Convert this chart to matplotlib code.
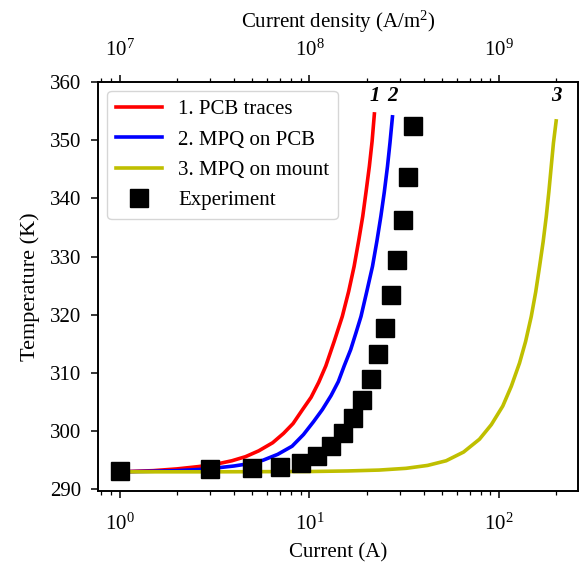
import matplotlib
matplotlib.use("Agg")
import matplotlib.pyplot as plt

plt.rcParams['font.family'] = ['Liberation Serif', 'DejaVu Serif']
plt.rcParams['mathtext.fontset'] = 'custom'
plt.rcParams['mathtext.rm'] = 'Liberation Serif'
plt.rcParams['mathtext.it'] = 'Liberation Serif:italic'
plt.rcParams['mathtext.bf'] = 'Liberation Serif:bold'

# Curve 1: PCB traces
pcb_I = [1.0, 1.5, 2.0, 2.6, 3.2, 3.9, 4.6, 5.4, 6.4, 7.3, 8.2, 9.2, 10.2, 11.2,
         12.2, 13.5, 14.9, 16.1, 17.2, 18.2, 19.1, 19.9, 20.7, 21.4, 22.0]
pcb_T = [293.0, 293.2, 293.5, 293.9, 294.3, 294.9, 295.6, 296.6, 298.0, 299.6,
         301.3, 303.7, 305.8, 308.4, 311.2, 315.4, 319.7, 324.0, 328.3, 332.8,
         336.9, 341.2, 345.5, 349.8, 354.5]

# Curve 2: MPQ on PCB
mpqpcb_I = [1.0, 1.5, 2.0, 2.6, 3.3, 4.0, 4.8, 5.7, 6.8, 8.1, 9.3, 10.5, 11.7,
            13.0, 14.2, 15.25, 16.5, 17.6, 18.7, 20.1, 21.5, 22.7, 23.8, 24.8,
            25.8, 26.6, 27.4]
mpqpcb_T = [293.0, 293.1, 293.2, 293.4, 293.7, 294.0, 294.4, 295.0, 296.0, 297.4,
            299.4, 301.6, 303.7, 306.1, 308.5, 311.2, 314.0, 316.9, 319.7, 324.1,
            328.3, 332.7, 336.9, 341.0, 345.5, 349.6, 354.0]

# Curve 3: MPQ on mount
mount_I = [1.0, 3.0, 10.0, 16.0, 23.3, 32.3, 42.0, 52.6, 65.0, 78.8, 91.0, 104.6,
           116.0, 128.2, 138.0, 147.8, 156.0, 163.5, 170.7, 177.4, 183.0, 188.4,
           193.5, 200.0]
mount_T = [293.0, 293.0, 293.05, 293.15, 293.3, 293.6, 294.1, 294.9, 296.4, 298.6,
           301.1, 304.3, 307.7, 311.7, 315.4, 319.7, 323.9, 328.3, 332.5, 336.9,
           341.1, 345.5, 349.5, 353.3]

# Experiment
exp_I = [1, 3, 5, 7, 9, 11, 13, 15, 17, 19, 21, 23, 25, 27, 29, 31, 33, 35]
exp_T = [293.2, 293.4, 293.7, 293.9, 294.6, 295.8, 297.4, 299.7, 302.3, 305.4,
         309.0, 313.3, 317.8, 323.4, 329.4, 336.2, 343.7, 352.4]

labels = ["1. PCB traces", "2. MPQ on PCB", "3. MPQ on mount", "Experiment"]
curve_tags = ["1", "2", "3"]
density_factor = 1e7  # A/m^2 per A

fs = 15
fig = plt.figure(figsize=(5.85, 5.67), dpi=100)
ax = fig.add_axes([0.1675, 0.134, 0.8205, 0.7215])

lw = 2.6
ax.plot(pcb_I, pcb_T, color='#ff0000', lw=lw, label=labels[0])
ax.plot(mpqpcb_I, mpqpcb_T, color='#0000ff', lw=lw, label=labels[1])
ax.plot(mount_I, mount_T, color='#bfbf00', lw=lw, label=labels[2])
ax.plot(exp_I, exp_T, linestyle='none', marker='s', markersize=13,
        color='black', label=labels[3])

ax.set_xscale('log')
ax.set_ylim(289.7, 360)
ax.set_yticks([290, 300, 310, 320, 330, 340, 350, 360])
ax.tick_params(axis='both', which='major', labelsize=fs, right=False, top=False,
               length=5, width=1.1)
ax.tick_params(axis='both', which='minor', length=3, width=0.9)
ax.tick_params(axis='x', which='major', pad=11)
ax.tick_params(axis='y', which='major', pad=7)
for s in ax.spines.values():
    s.set_linewidth(1.2)

tag_T = 357.5
for tag, I_end in zip(curve_tags, [pcb_I[-1], mpqpcb_I[-1], mount_I[-1]]):
    ax.text(I_end, tag_T, tag, ha='center', va='center', fontsize=fs,
            fontweight='bold', fontstyle='italic')

ax.set_xlabel("Current (A)", fontsize=fs, labelpad=6)
ax.set_ylabel("Temperature (K)", fontsize=16, labelpad=7)

leg = ax.legend(loc='upper left', fontsize=fs, handlelength=2.2,
                frameon=True, fancybox=True, borderpad=0.4,
                labelspacing=0.52, handletextpad=0.8,
                borderaxespad=0.45)
leg.get_frame().set_edgecolor('#cccccc')
leg.get_frame().set_linewidth(1.0)

x0, x1 = ax.get_xlim()
ax2 = ax.twiny()
ax2.set_xscale('log')
ax2.set_xlim(x0 * density_factor, x1 * density_factor)
ax2.tick_params(axis='x', which='major', labelsize=fs, length=5, width=1.1, pad=10)
ax2.tick_params(axis='x', which='minor', length=3, width=0.9)
ax2.set_xlabel("Current density (A/m$^2$)", fontsize=fs, labelpad=9)
for s in ax2.spines.values():
    s.set_linewidth(1.2)

fig.savefig("out.png", dpi=100)
